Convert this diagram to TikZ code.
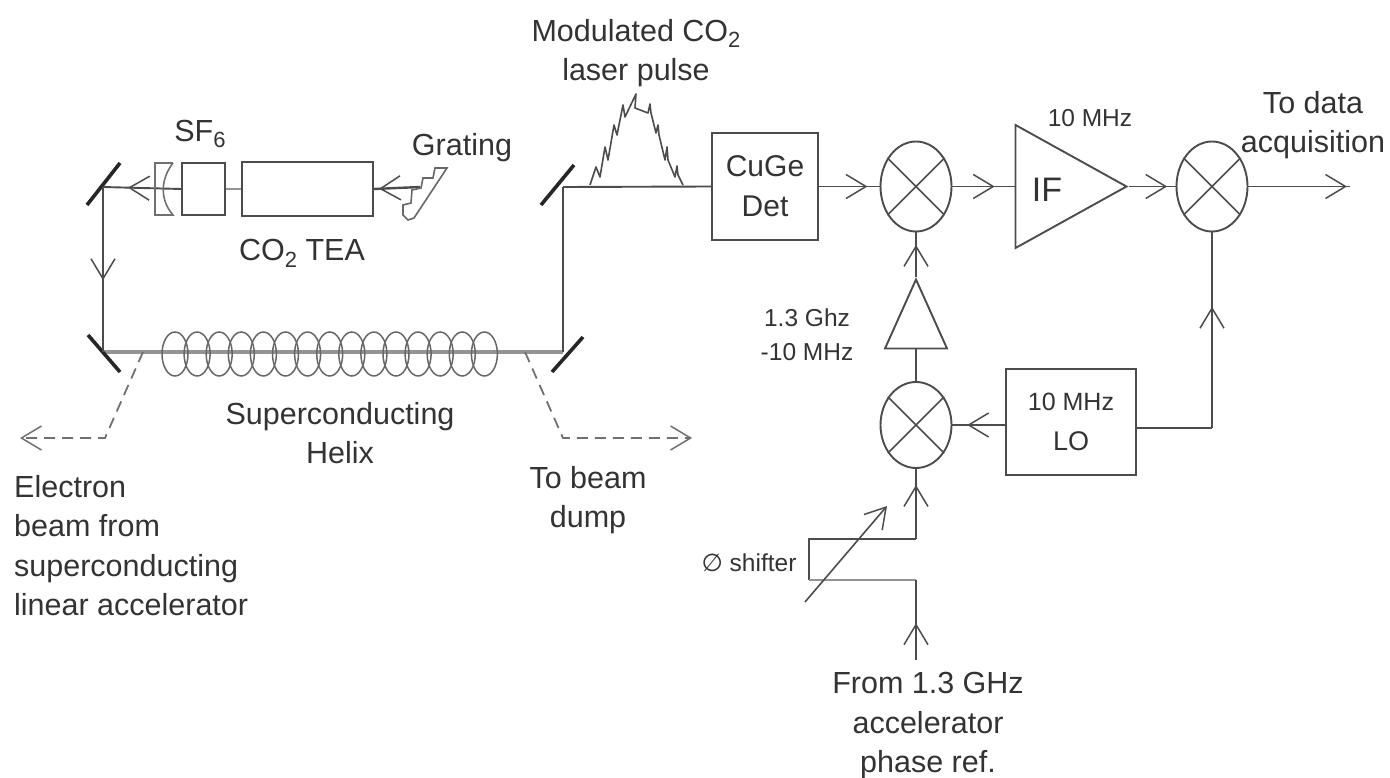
\documentclass[tikz,border=0pt]{standalone}
\usepackage{fontspec}
\setmainfont{Liberation Sans}
\newfontfamily\symfont{DejaVu Sans}
\usetikzlibrary{arrows.meta,shapes.geometric,decorations.markings}
\definecolor{ink}{gray}{0.30}
\definecolor{txt}{gray}{0.20}
\newcommand{\lowr}[1]{\raisebox{-0.22em}{\fontsize{22}{22}\selectfont #1}}
\tikzset{
  x=1pt,y=-1pt,
  wire/.style={draw=ink,line width=1.9pt},
  thickwire/.style={draw=ink!60,line width=4pt},
  mirror/.style={draw=black!85,line width=3.6pt},
  barb/.tip={Straight Barb[length=20pt,width=24pt,line width=1.5pt]},
  flow/.style={postaction={decorate},decoration={markings,mark=at position #1 with {\arrow{barb}}}},
  blockbox/.style={draw=ink,line width=1.9pt,inner sep=0pt,align=center,font=\fontsize{30}{40}\selectfont,text=txt},
  mixer/.style={draw=ink,line width=1.9pt,ellipse,inner sep=0pt,minimum width=71pt,minimum height=90pt},
  amp/.style={draw=ink,line width=1.9pt,isosceles triangle,isosceles triangle stretches,inner sep=0pt},
  lab/.style={text=txt,align=center,font=\fontsize{30.5}{39.5}\selectfont,inner sep=0pt},
  smalllab/.style={text=txt,align=center,font=\fontsize{24.5}{34}\selectfont,inner sep=0pt},
  coilturn/.style={draw=ink!85,line width=1.5pt,ellipse,inner sep=0pt,minimum width=26pt,minimum height=44pt},
  dashline/.style={draw=ink!80,line width=1.8pt,dash pattern=on 11pt off 7pt},
}
\begin{document}
\begin{tikzpicture}
\useasboundingbox (0,0) rectangle (1390,778);
% mirror spots
\coordinate (mtl) at (103,187);
\coordinate (mbl) at (103,352);
\coordinate (mtr) at (563,187);
\coordinate (mbr) at (563,352);
% boxes
\node[blockbox,minimum width=43pt,minimum height=52pt] (sf) at (203.5,189) {};
\node[blockbox,minimum width=131pt,minimum height=54pt] (tea) at (307.5,189) {};
\node[blockbox,minimum width=106pt,minimum height=107pt] (cuge) at (765,186.5) {CuGe\\Det};
\node[blockbox,minimum width=130pt,minimum height=106pt] (lo) at (1071,422) {\fontsize{25}{38}\selectfont 10 MHz\\\fontsize{27}{38}\selectfont LO};
\node[mixer] (m1) at (916,186.5) {};
\node[mixer] (m2) at (1212,186.5) {};
\node[mixer,minimum height=86pt] (m3) at (916,425) {};
\foreach \m in {m1,m2,m3}{
  \draw[wire,line width=1.5pt] (\m.45) -- (\m.225);
  \draw[wire,line width=1.5pt] (\m.135) -- (\m.315);
}
\node[amp,minimum height=111pt,minimum width=123pt,anchor=apex] (if) at (1129,186.5) {};
\node[amp,shape border rotate=90,minimum width=62pt,minimum height=69pt,anchor=apex] (pa) at (916,277) {};
% free ends
\coordinate (grat) at (420,187);
\coordinate (out) at (1350,186.5);
\coordinate (c1) at (1212,428);
\coordinate (s1) at (916,539);
\coordinate (s2) at (809,539);
\coordinate (s3) at (809,580);
\coordinate (s4) at (916,580);
\coordinate (s5) at (916,660);
% beam
\draw[thickwire] (mbl) -- (mbr);
\foreach \i in {0,...,14}{
  \node[coilturn] (coil\i) at ({175+22.1*\i},354) {};
}
% mirrors
\draw[mirror] (87,205) -- (120,163);
\draw[mirror] (88,335) -- (120,372);
\draw[mirror] (541,205) -- (574,165);
\draw[mirror] (552,372) -- (583,337);
% optics line
\draw[wire,flow=0.68] (sf.west) -- (mtl);
\draw[thickwire,line width=2.6pt] (tea.west) -- (sf.east);
\draw[wire,flow=0.89,line width=2.4pt] (grat) -- (tea.east);
\draw[wire,flow=0.565] (mtl) -- (mbl);
\draw[wire] (mbr) -- (mtr);
\draw[wire] (mtr) -- (cuge.west);
% output optic
\draw[draw=ink!80,line width=1.6pt] (173,163) -- (155,163) -- (155,215) -- (173,215) .. controls (160,200) and (160,180) .. (173,163);
% grating
\draw[draw=ink!85,line width=1.6pt,fill=white] (447,168) -- (435,168) -- (433,178) -- (423,178) -- (421,188) -- (412,190) -- (411,203) -- (403,205) -- (403,215) -- (408,220) -- (414,218) -- cycle;
% pulse
\draw[draw=ink,line width=1.6pt,line join=round] (590,185) -- (596,167) -- (600,177) -- (605,147) -- (608,160) -- (614,125) -- (617,135) -- (623,105) -- (625,117) -- (636,94) -- (635,108) -- (648,113) -- (650,104) -- (651,113) -- (656,133) -- (658,125) -- (659,135) -- (665,160) -- (667,147) -- (668,160) -- (675,177) -- (677,166) -- (678,175) -- (683,185);
% signal chain
\draw[wire,flow=0.8] (cuge.east) -- (m1.west);
\draw[wire,flow=0.68] (m1.east) -- (if.lower side);
\draw[wire,flow=0.82] (if.apex) -- (m2.west);
\draw[wire,flow=0.97] (m2.east) -- (out);
\draw[wire,flow=0.62] (c1) -- (m2.south);
\draw[wire] (lo.east |- c1) -- (c1);
\draw[wire,flow=0.72] (lo.west |- m3.east) -- (m3.east);
\draw[wire] (m3.north) -- (pa.lower side);
\draw[wire,flow=0.72] (pa.apex) -- (m1.south);
\draw[wire,flow=0.77] (s1) -- (m3.south);
\draw[wire] (s1) -- (s2) -- (s3);
\draw[thickwire,line width=2.8pt] (s3) -- (s4);
\draw[wire,flow=0.46] (s5) -- (s4);
\coordinate (d1) at (805,602);
\coordinate (d2) at (887,506);
\draw[wire,line width=1.6pt,-{Straight Barb[length=20pt,width=24pt,line width=1.5pt]}] (d1) -- (d2);
% dashed beams
\coordinate (e1) at (143,352);
\coordinate (e2) at (105,438);
\coordinate (e3) at (20,438);
\coordinate (f1) at (525,352);
\coordinate (f2) at (563,438);
\coordinate (f3) at (692,438);
\draw[dashline,-{Straight Barb[length=20pt,width=24pt,line width=1.5pt]}] (e1) -- (e2) -- (e3);
\draw[dashline,-{Straight Barb[length=20pt,width=24pt,line width=1.5pt]}] (f1) -- (f2) -- (f3);
% labels
\node[lab] (tpulse) at (636,53) {Modulated CO\lowr{2}\\laser pulse};
\node[lab] (tsf) at (200,134) {SF\lowr{6}};
\node[lab] (tgr) at (462,148) {Grating};
\node[lab] (ttea) at (302,253) {CO\lowr{2} TEA};
\node[lab] (thel) at (340,433) {Superconducting\\Helix};
\node[lab,align=left,anchor=north west] (tel) at (14,475) {Electron\\beam from\\superconducting\\linear accelerator};
\node[lab] (tdump) at (588,500) {To beam\\dump};
\node[smalllab] (tten) at (1090,118) {10 MHz};
\node[lab] (tacq) at (1313,125) {To data\\acquisition};
\node[lab,font=\fontsize{34}{40}\selectfont] (tif) at (1047,190) {IF};
\node[smalllab] (tghz) at (807,335) {1.3 Ghz\\-10 MHz};
\node[smalllab] (tsh) at (749,563) {{\symfont ∅} shifter};
\node[lab] (tfrom) at (928,726) {From 1.3 GHz\\accelerator\\phase ref.};
\end{tikzpicture}
\end{document}
